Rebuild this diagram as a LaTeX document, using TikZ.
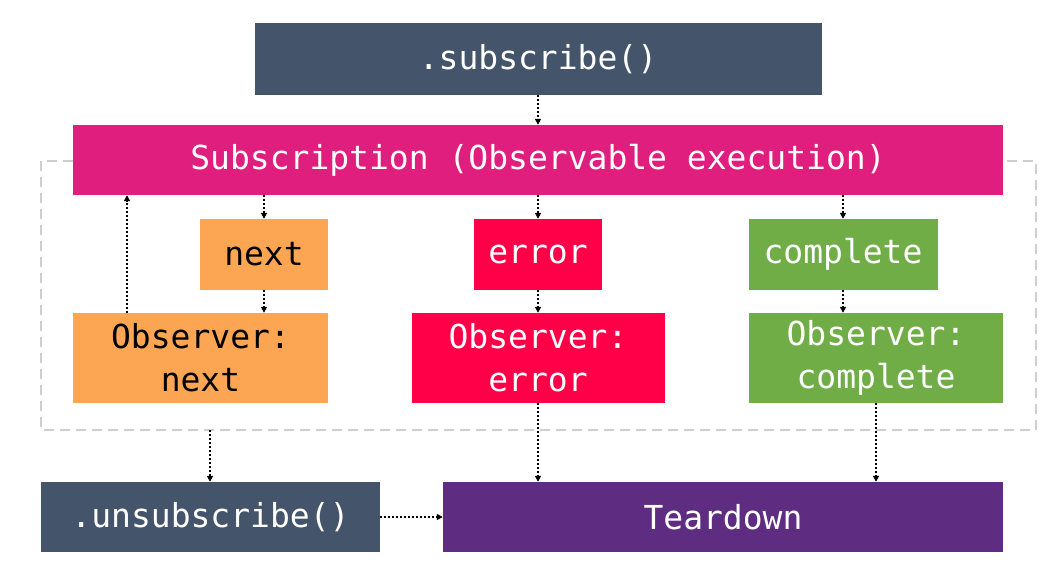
\documentclass[tikz,border=0pt]{standalone}
\usepackage{fontspec}
\setmonofont{DejaVu Sans Mono}
\usetikzlibrary{arrows.meta}
\definecolor{slate}{HTML}{44546A}
\definecolor{magentabox}{HTML}{E01E7E}
\definecolor{orangebox}{HTML}{FCA552}
\definecolor{redbox}{HTML}{FF0048}
\definecolor{greenbox}{HTML}{70AD47}
\definecolor{purplebox}{HTML}{5E2D82}
\definecolor{dashgray}{HTML}{CFCFCF}
\tikzset{
  box/.style={rectangle, inner sep=0pt, align=center, text=white,
    font=\ttfamily\fontsize{33}{43}\selectfont},
  darkbox/.style={box, text=black},
  arr/.style={dash pattern=on 2pt off 2pt, line width=2pt, black,
    -{Triangle[length=6pt,width=6pt]}},
  groupline/.style={dashgray, line width=2pt, dash pattern=on 10pt off 6pt}
}
\begin{document}
\begin{tikzpicture}[x=1pt,y=-1pt]
\useasboundingbox (0,0) rectangle (1061,587);
\fill[white] (0,0) rectangle (1061,587);
% dashed group
\draw[groupline] (41,161) rectangle (1036,430);
% nodes
\node[box, fill=slate, minimum width=567pt, minimum height=72pt] (sub) at (538,59) {\raisebox{-3pt}{.subscribe()}};
\node[box, fill=magentabox, minimum width=930pt, minimum height=70pt] (subn) at (538,160) {\raisebox{-3pt}{Subscription (Observable execution)}};
\node[darkbox, fill=orangebox, minimum width=128pt, minimum height=71pt] (next) at (264,254.5) {\raisebox{-3pt}{next}};
\node[box, fill=redbox, minimum width=128pt, minimum height=71pt] (err) at (538,254.5) {\raisebox{-3pt}{error}};
\node[box, fill=greenbox, minimum width=189pt, minimum height=71pt] (comp) at (843,254.5) {\raisebox{-3pt}{complete}};
\node[darkbox, fill=orangebox, minimum width=255pt, minimum height=90pt] (onext) at (200.5,358) {Observer:\\next};
\node[box, fill=redbox, minimum width=253pt, minimum height=90pt] (oerr) at (538,358) {Observer:\\error};
\node[box, fill=greenbox, minimum width=254pt, minimum height=90pt] (ocomp) at (876,358) {Observer:\\complete};
\node[box, fill=slate, minimum width=339pt, minimum height=70pt] (unsub) at (210.5,517) {\raisebox{-3pt}{.unsubscribe()}};
\node[box, fill=purplebox, minimum width=560pt, minimum height=70pt] (tear) at (723,517) {\raisebox{-3pt}{Teardown}};
\coordinate (grp) at (210,430);
\coordinate (back) at (127,313);
% connectors
\draw[arr] (sub.south) -- (subn.north);
\draw[arr] (next.north |- subn.south) -- (next.north);
\draw[arr] (err.north |- subn.south) -- (err.north);
\draw[arr] (comp.north |- subn.south) -- (comp.north);
\draw[arr] (next.south) -- (next.south |- onext.north);
\draw[arr] (err.south) -- (err.south |- oerr.north);
\draw[arr] (comp.south) -- (comp.south |- ocomp.north);
\draw[arr] (back) -- (back |- subn.south);
\draw[arr] (grp) -- (grp |- unsub.north);
\draw[arr] (oerr.south) -- (oerr.south |- tear.north);
\draw[arr] (ocomp.south) -- (ocomp.south |- tear.north);
\draw[arr] (unsub.east) -- (tear.west);
\end{tikzpicture}
\end{document}
